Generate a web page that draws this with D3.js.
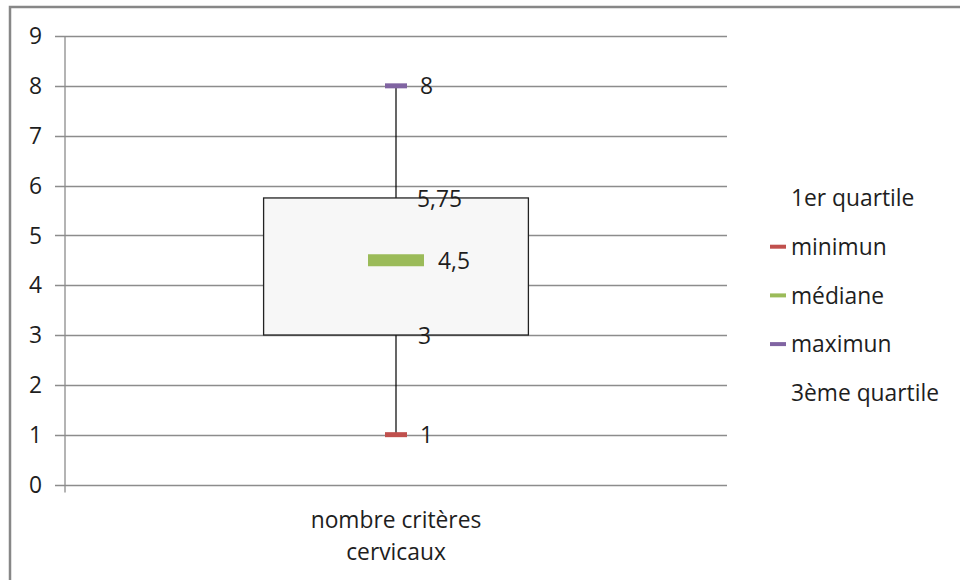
<!DOCTYPE html>
<html><head><meta charset="utf-8">
<script src="https://cdn.jsdelivr.net/npm/d3@7"></script>
<style>
html,body{margin:0;padding:0;background:#fff;}
svg text{font-family:"Open Sans", sans-serif; fill:#1e1e1e;}
</style></head>
<body>
<svg id="chart" width="960" height="580"></svg>
<script>
const categories = ["nombre critères cervicaux"];
const minimum = [1];
const q1 = [3];
const median = [4.5];
const q3 = [5.75];
const maximum = [8];
const valueLabels = {min:["1"], q1:["3"], median:["4,5"], q3:["5,75"], max:["8"]};
const yTicks = [0,1,2,3,4,5,6,7,8,9];
const legendItems = ["1er quartile","minimun","médiane","maximun","3ème quartile"];
const legendColors = [null,"#c0504d","#9bbb59","#8064a2",null];

const FS = 22.8;
const svg = d3.select("#chart");
svg.append("rect").attr("x",0).attr("y",0).attr("width",960).attr("height",580).attr("fill","#fff");
svg.append("path").attr("d","M10,585 L10,7 L965,7").attr("fill","none").attr("stroke","#878787").attr("stroke-width",2.5);

const plot = {left:65, right:727, top:36, bottom:484.5};
const y = d3.scaleLinear().domain([0,9]).range([plot.bottom, plot.top]);
const x = d3.scaleBand().domain(categories).range([plot.left, plot.right]);

svg.append("g").selectAll("line").data(yTicks).join("line")
  .attr("x1",plot.left-10).attr("x2",plot.right)
  .attr("y1",d=>Math.round(y(d))+0.5).attr("y2",d=>Math.round(y(d))+0.5)
  .attr("stroke","#8c8c8c").attr("stroke-width",1.3);
svg.append("line").attr("x1",plot.left).attr("x2",plot.left)
  .attr("y1",plot.top).attr("y2",plot.bottom+8).attr("stroke","#8c8c8c").attr("stroke-width",1.3);
svg.append("g").selectAll("text").data(yTicks).join("text")
  .attr("x",42).attr("y",d=>y(d)).attr("dy","0.36em").attr("text-anchor","end")
  .attr("font-size",FS).text(d=>d);

const cx = c => x(c) + x.bandwidth()/2;
const boxW = x.bandwidth()*0.4;
const g = svg.append("g");
categories.forEach((c,i)=>{
  const xc = cx(c);
  g.append("line").attr("x1",xc).attr("x2",xc).attr("y1",y(maximum[i])).attr("y2",y(minimum[i]))
    .attr("stroke","#000").attr("stroke-width",1.2);
  g.append("rect").attr("x",xc-boxW/2).attr("y",y(q3[i])).attr("width",boxW)
    .attr("height",y(q1[i])-y(q3[i])).attr("fill","#f7f7f7").attr("stroke","#222").attr("stroke-width",1.3);
  g.append("line").attr("x1",xc-11).attr("x2",xc+11).attr("y1",y(maximum[i])).attr("y2",y(maximum[i]))
    .attr("stroke","#8064a2").attr("stroke-width",5);
  g.append("line").attr("x1",xc-11).attr("x2",xc+11).attr("y1",y(minimum[i])).attr("y2",y(minimum[i]))
    .attr("stroke","#c0504d").attr("stroke-width",5);
  g.append("line").attr("x1",xc-28).attr("x2",xc+28).attr("y1",y(median[i])).attr("y2",y(median[i]))
    .attr("stroke","#9bbb59").attr("stroke-width",12);
  const lab = (txt,val,dx)=> g.append("text").attr("x",xc+dx).attr("y",y(val)).attr("dy","0.38em")
    .attr("font-size",FS).text(txt);
  lab(valueLabels.max[i], maximum[i], 24);
  lab(valueLabels.q3[i], q3[i], 21);
  lab(valueLabels.median[i], median[i], 42);
  lab(valueLabels.q1[i], q1[i], 22);
  lab(valueLabels.min[i], minimum[i], 24);
  const words = c.split(" ");
  const lines = [words.slice(0,2).join(" "), words.slice(2).join(" ")];
  lines.forEach((ln,j)=>{
    svg.append("text").attr("x",xc).attr("y",520+j*32).attr("dy","0.36em").attr("text-anchor","middle")
      .attr("font-size",FS).text(ln);
  });
});

const leg = svg.append("g");
legendItems.forEach((t,i)=>{
  const ly = 198 + i*48.7;
  if(legendColors[i]) leg.append("line").attr("x1",770).attr("x2",786).attr("y1",ly).attr("y2",ly)
    .attr("stroke",legendColors[i]).attr("stroke-width",4);
  leg.append("text").attr("x",791).attr("y",ly).attr("dy","0.36em").attr("font-size",FS).text(t);
});
</script>
</body></html>
